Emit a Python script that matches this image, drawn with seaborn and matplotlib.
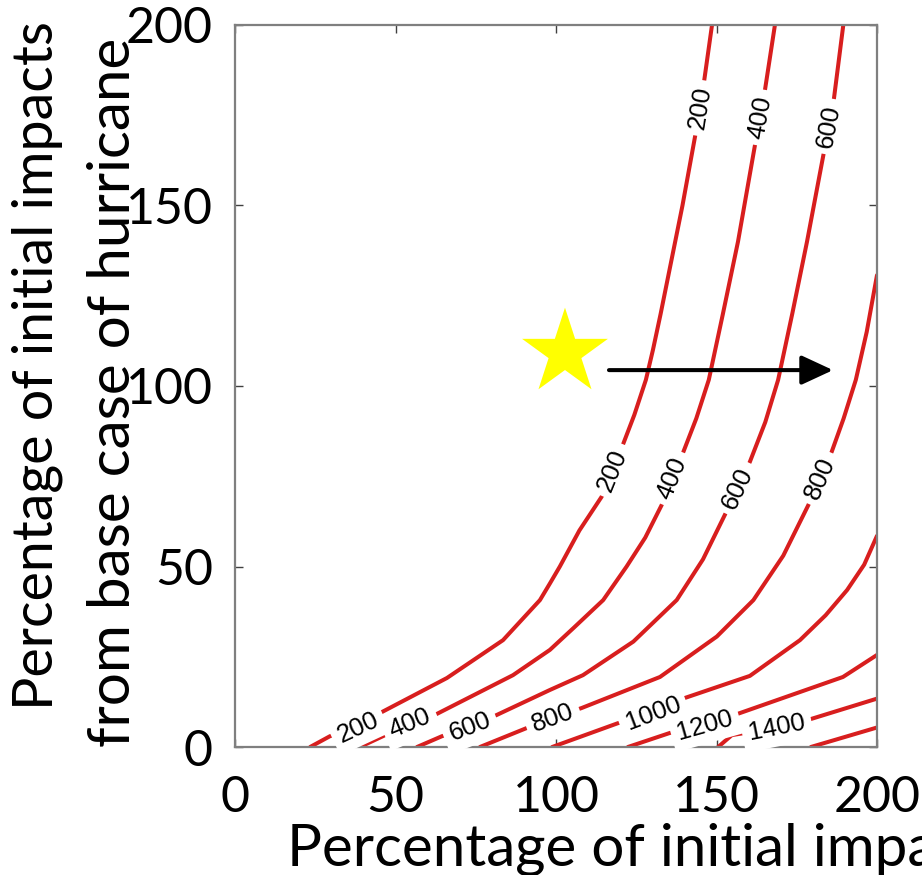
import numpy as np
import pandas as pd
import matplotlib
matplotlib.use("Agg")
import matplotlib.pyplot as plt
import seaborn as sns

# ---------------- data ----------------
levels = [200, 400, 600, 800, 1000, 1200, 1400, 1600]

c200_x = [23.4, 29.6, 38.3, 45.8, 66.0, 83.5, 95.0, 98.1, 101.2, 107.3, 114.2, 117.6, 121.0, 124.4, 128.0,
          130.2, 132.6, 136.0, 139.4, 143.4, 145.0, 146.2, 148.6]
c200_y = [0.0, 3.0, 5.5, 9.7, 19.1, 29.6, 40.7, 45.3, 50.0, 60.0, 69.3, 76.7, 84.1, 92.0, 101.7,
          110.0, 120.0, 135.0, 150.0, 169.5, 177.0, 184.8, 200.0]

c400_x = [38.9, 46.1, 54.5, 62.3, 86.6, 98.1, 105.5, 114.7, 122.0, 127.8, 132.9, 136.3, 139.7, 143.7,
          147.6, 152.0, 156.7, 162.0, 163.6, 165.1, 168.2]
c400_y = [0.0, 3.0, 6.6, 8.9, 19.9, 26.9, 33.0, 40.7, 50.0, 58.0, 67.0, 74.4, 81.8, 91.0,
          101.7, 120.0, 140.0, 166.8, 174.4, 182.0, 200.0]

c600_x = [56.7, 64.5, 73.2, 81.6, 98.1, 108.4, 124.1, 137.6, 145.8, 152.6, 156.5, 160.4, 165.2, 169.2,
          173.6, 178.2, 183.3, 185.0, 186.6, 189.5]
c600_y = [0.0, 3.0, 5.5, 8.9, 15.8, 19.9, 29.2, 40.7, 52.0, 64.3, 71.7, 79.0, 90.0, 101.7,
          120.0, 140.0, 164.0, 171.9, 179.7, 200.0]

c800_x = [76.3, 91.0, 99.0, 108.0, 132.4, 150.1, 161.5, 170.8, 178.6, 182.3, 185.9, 189.6, 193.4, 196.8, 200.0]
c800_y = [0.0, 5.3, 8.0, 10.8, 19.4, 30.6, 40.7, 53.0, 67.0, 74.4, 81.8, 91.0, 101.7, 115.0, 130.7]

c1000_x = [98.8, 119.3, 130.2, 140.2, 160.4, 176.0, 184.0, 190.7, 196.0, 200.0]
c1000_y = [0.0, 6.6, 9.4, 13.6, 19.7, 29.6, 36.5, 43.5, 50.5, 58.5]

c1200_x = [122.4, 135.5, 146.4, 157.3, 189.4, 200.0]
c1200_y = [0.0, 3.9, 6.1, 9.4, 19.4, 25.5]

c1400_x = [150.5, 154.8, 168.8, 178.5, 200.0]
c1400_y = [0.0, 3.3, 5.3, 7.5, 13.4]

c1600_x = [179.4, 200.0]
c1600_y = [0.0, 5.4]

contour_x = [c200_x, c400_x, c600_x, c800_x, c1000_x, c1200_x, c1400_x, c1600_x]
contour_y = [c200_y, c400_y, c600_y, c800_y, c1000_y, c1200_y, c1400_y, c1600_y]

# inline contour labels: level, x, y
label_level = [200, 200, 200, 400, 400, 400, 600, 600, 600, 800, 800, 1000, 1200, 1400]
label_x = [38.3, 117.6, 145.0, 54.5, 136.3, 163.6, 73.2, 156.5, 185.0, 99.0, 182.3, 130.2, 146.4, 168.8]
label_y = [5.5, 76.7, 177.0, 6.6, 74.4, 174.4, 5.5, 71.7, 171.9, 8.0, 74.4, 9.4, 6.1, 5.3]

star_point = (102.8, 109.2)
arrow_start = (116.5, 104.4)
arrow_end = (186.3, 104.4)

xticks = [0, 50, 100, 150, 200]
yticks = [0, 50, 100, 150, 200]

xlabel_text = "Percentage of initial impacts"
ylabel_line1 = "Percentage of initial impacts"
ylabel_line2 = "from base case of hurricane"

# ---------------- figure ----------------
sns.set_theme(style="white")
plt.rcParams["font.family"] = ["Lato", "DejaVu Sans"]

W, H = 922, 875
fig = plt.figure(figsize=(W / 100, H / 100), dpi=100)
ax = fig.add_axes([235 / W, (H - 747) / H, (877 - 235) / W, (747 - 25) / H])

red = "#d81e1e"
rows = []
for lev, xs, ys in zip(levels, contour_x, contour_y):
    for i, (xv, yv) in enumerate(zip(xs, ys)):
        rows.append({"level": lev, "x": xv, "y": yv, "order": i})
df = pd.DataFrame(rows)

for lev in levels:
    sub = df[df.level == lev]
    sns.lineplot(data=sub, x="x", y="y", sort=False, estimator=None,
                 color=red, lw=2.9, ax=ax, legend=False, zorder=2)

ax.set_xlim(0, 200)
ax.set_ylim(0, 200)
ax.set_xticks(xticks)
ax.set_yticks(yticks)
ax.set_xticklabels([str(t) for t in xticks])
ax.set_yticklabels([str(t) for t in yticks])
ax.set_xlabel("")
ax.set_ylabel("")

for s in ax.spines.values():
    s.set_visible(True)
    s.set_color("#7f7f7f")
    s.set_linewidth(1.6)

ax.tick_params(axis="both", direction="in", length=6, width=1.0, color="#404040",
               top=True, right=True, bottom=True, left=True)
ax.tick_params(axis="x", labelsize=36, pad=20, labelcolor="black")
ax.tick_params(axis="y", labelsize=36, pad=16, labelcolor="black")

# contour labels, rotated along the line
fig.canvas.draw()
for lev, lx, ly in zip(label_level, label_x, label_y):
    idx = levels.index(lev)
    xs = np.array(contour_x[idx])
    ys = np.array(contour_y[idx])
    pts = ax.transData.transform(np.column_stack([xs, ys]))
    p = ax.transData.transform((lx, ly))
    d = np.hypot(pts[:, 0] - p[0], pts[:, 1] - p[1])
    k = int(np.argmin(d))
    k0 = max(k - 1, 0)
    k1 = min(k + 1, len(xs) - 1)
    dx = pts[k1, 0] - pts[k0, 0]
    dy = pts[k1, 1] - pts[k0, 1]
    ang = np.degrees(np.arctan2(dy, dx))
    if ang > 90:
        ang -= 180
    if ang <= -90:
        ang += 180
    ax.text(lx, ly, str(lev), rotation=ang, rotation_mode="anchor",
            ha="center", va="center", fontsize=18.5, color="black",
            family=["Liberation Sans", "DejaVu Sans"], zorder=3,
            bbox=dict(boxstyle="square,pad=0.25", fc="white", ec="none"))

# star and arrow
sns.scatterplot(x=[star_point[0]], y=[star_point[1]], marker="*", s=65 ** 2,
                color="#ffff00", edgecolor="none", ax=ax, zorder=4, legend=False)
ax.annotate("", xy=arrow_end, xytext=arrow_start,
            arrowprops=dict(arrowstyle="-|>,head_length=0.97,head_width=0.45",
                            mutation_scale=20, lw=2.9, color="black",
                            shrinkA=0, shrinkB=0), zorder=4)

# axis labels
fig.text(287 / W, (H - 865) / H, xlabel_text, fontsize=42, ha="left", va="baseline",
         color="black")
fig.text(53 / W, (H - 366) / H, ylabel_line1, fontsize=40, rotation=90,
         rotation_mode="anchor", ha="center", va="baseline", color="black")
fig.text(130 / W, (H - 392) / H, ylabel_line2, fontsize=42, rotation=90,
         rotation_mode="anchor", ha="center", va="baseline", color="black")

fig.savefig("out.png", dpi=100, facecolor="white")
